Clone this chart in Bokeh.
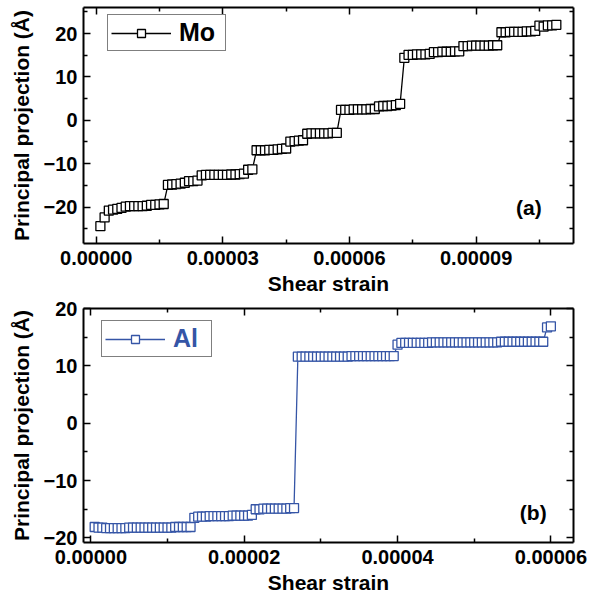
from bokeh.plotting import figure
from bokeh.layouts import column
from bokeh.models import (Range1d, LinearAxis, FixedTicker, PrintfTickFormatter,
                          CustomJSTickFormatter, Legend, LegendItem, Label)
from bokeh.embed import file_html
from bokeh.resources import INLINE

FONT = "Liberation Sans"

# ---------------- data (strain in units of 1e-6, projection in Angstrom) ----------------
mo_strain_e6 = [1, 2, 3, 4, 5, 6, 7, 8, 9, 10, 11, 12, 13, 14, 15, 16,
                17, 18, 19, 20, 21, 22, 23, 24,
                25, 26, 27, 28, 29, 30, 31, 32, 33, 34, 35, 36, 37,
                38, 39, 40, 41, 42, 43, 44, 45,
                46, 47, 48, 49,
                50, 51, 52, 53, 54, 55, 56, 57,
                58, 59, 60, 61, 62, 63, 64, 65, 66,
                67, 68, 69, 70, 71, 72,
                73, 74, 75, 76, 77, 78, 79,
                80, 81, 82, 83, 84, 85, 86,
                87, 88, 89, 90, 91, 92, 93, 94, 95,
                96, 97, 98, 99, 100, 101, 102, 103, 104,
                105, 106, 107, 108, 109]
mo_proj = [-24.4, -22.4, -20.8, -20.6, -20.4, -20.2, -19.9, -19.8, -19.8, -19.8, -19.8, -19.7, -19.5, -19.5, -19.4, -19.3,
           -14.9, -14.8, -14.7, -14.6, -14.4, -14.0, -14.0, -13.9,
           -12.7, -12.6, -12.6, -12.6, -12.6, -12.6, -12.6, -12.5, -12.5, -12.4, -12.3, -11.4, -11.3,
           -6.9, -6.9, -6.9, -6.8, -6.8, -6.7, -6.6, -6.5,
           -4.9, -4.8, -4.7, -4.6,
           -3.1, -3.0, -3.0, -3.0, -3.0, -3.0, -2.9, -2.9,
           2.4, 2.4, 2.4, 2.5, 2.5, 2.5, 2.5, 2.6, 2.6,
           3.2, 3.3, 3.3, 3.4, 3.5, 3.8,
           14.4, 15.1, 15.1, 15.2, 15.2, 15.2, 15.3,
           15.7, 15.7, 15.8, 15.8, 15.8, 15.9, 15.9,
           17.1, 17.1, 17.2, 17.2, 17.2, 17.2, 17.2, 17.3, 17.3,
           20.3, 20.3, 20.4, 20.4, 20.4, 20.4, 20.5, 20.5, 20.6,
           21.8, 21.6, 21.9, 21.9, 22.0]

al_strain_e6 = [0.5, 1.0, 1.5, 2.0, 2.5, 3.0, 3.5, 4.0, 4.5, 5.0, 5.5, 6.0, 6.5,
                7.0, 7.5, 8.0, 8.5, 9.0, 9.5, 10.0, 10.5, 11.0, 11.5, 12.0, 12.5, 13.0,
                13.5, 14.0, 14.5, 15.0, 15.5, 16.0, 16.5, 17.0, 17.5, 18.0, 18.5, 19.0,
                19.5, 20.0, 20.5, 21.0,
                21.5, 22.0, 22.5, 23.0, 23.5, 24.0, 24.5, 25.0, 25.5, 26.0, 26.5,
                27.0, 27.5, 28.0, 28.5, 29.0, 29.5, 30.0, 30.5, 31.0, 31.5, 32.0, 32.5,
                33.0, 33.5, 34.0, 34.5, 35.0, 35.5, 36.0, 36.5, 37.0, 37.5, 38.0, 38.5,
                39.0, 39.5, 40.0,
                40.5,
                41.0, 41.5, 42.0, 42.5, 43.0, 43.5, 44.0, 44.5, 45.0, 45.5, 46.0, 46.5,
                47.0, 47.5, 48.0, 48.5, 49.0, 49.5, 50.0, 50.5, 51.0, 51.5, 52.0, 52.5,
                53.0, 53.5, 54.0, 54.5, 55.0, 55.5, 56.0, 56.5, 57.0, 57.5, 58.0, 58.5,
                59.0, 59.5,
                60.0, 60.5]
al_proj = [-18.1, -18.2, -18.2, -18.3, -18.3, -18.3, -18.3, -18.3, -18.3, -18.2, -18.2, -18.2, -18.2,
           -18.2, -18.2, -18.2, -18.2, -18.2, -18.2, -18.2, -18.2, -18.1, -18.1, -18.1, -18.1, -18.1,
           -16.5, -16.3, -16.3, -16.3, -16.2, -16.2, -16.2, -16.2, -16.2, -16.2, -16.1, -16.1,
           -16.1, -16.1, -16.1, -16.0,
           -15.0, -15.0, -14.9, -14.9, -14.9, -14.9, -14.9, -14.9, -14.9, -14.8, -14.8,
           11.6, 11.6, 11.6, 11.6, 11.6, 11.6, 11.6, 11.6, 11.6, 11.6, 11.6, 11.6,
           11.6, 11.6, 11.7, 11.7, 11.7, 11.7, 11.7, 11.7, 11.7, 11.7, 11.7,
           11.7, 11.7, 11.7,
           13.7,
           14.0, 14.0, 14.0, 14.0, 14.0, 14.0, 14.0, 14.0, 14.1, 14.1, 14.1, 14.1,
           14.1, 14.1, 14.1, 14.1, 14.1, 14.1, 14.1, 14.1, 14.1, 14.1, 14.1, 14.1,
           14.1, 14.1, 14.2, 14.2, 14.2, 14.2, 14.2, 14.2, 14.2, 14.2, 14.2, 14.2,
           14.2, 14.2,
           16.7, 16.9]

mo_xticks = [0.0, 0.00003, 0.00006, 0.00009]
mo_xminor = [0.000015, 0.000045, 0.000075, 0.000105]
al_xticks = [0.0, 0.00002, 0.00004, 0.00006]
al_xminor = [0.00001, 0.00003, 0.00005]
yticks = [-20, -10, 0, 10, 20]
mo_yminor = [-25, -15, -5, 5, 15, 25]
al_yminor = [-15, -5, 5, 15]

X_LABEL = "Shear strain"
Y_LABEL = "Principal projection (Å)"

MO_COLOR = "black"
AL_COLOR = "#3555a6"


def style_axis(ax, show_labels):
    ax.axis_line_width = 2
    ax.axis_line_color = "black"
    ax.major_tick_in = 7
    ax.major_tick_out = 0
    ax.minor_tick_in = 4
    ax.minor_tick_out = 0
    ax.major_tick_line_width = 1.5
    ax.minor_tick_line_width = 1.5
    ax.major_tick_line_color = "black"
    ax.minor_tick_line_color = "black"
    if show_labels:
        ax.major_label_text_font = FONT
        ax.major_label_text_font_style = "bold"
        ax.major_label_text_font_size = "20px"
        ax.major_label_text_color = "black"
        ax.axis_label_text_font = FONT
        ax.axis_label_text_font_style = "bold"
        ax.axis_label_text_font_size = "21px"
        ax.axis_label_text_color = "black"
    else:
        ax.formatter = CustomJSTickFormatter(code="return '';")
        ax.major_label_text_font_size = "1px"
        ax.major_label_standoff = 0
        ax.axis_label = None


def make_panel(x, y, color, name, xr, yr, xt, xm, ym, panel_text, panel_pos,
               legend_loc, width, height, mb, label_width):
    p = figure(width=width, height=height, x_range=Range1d(*xr), y_range=Range1d(*yr),
               output_backend="svg", toolbar_location=None,
               min_border_left=mb[0], min_border_right=mb[1],
               min_border_top=mb[2], min_border_bottom=mb[3])
    p.xgrid.visible = False
    p.ygrid.visible = False
    p.outline_line_color = None
    p.background_fill_color = "white"
    p.border_fill_color = "white"

    p.xaxis[0].ticker = FixedTicker(ticks=xt, minor_ticks=xm)
    p.xaxis[0].formatter = PrintfTickFormatter(format="%.5f")
    p.xaxis[0].axis_label = X_LABEL
    p.xaxis[0].major_label_standoff = 7
    p.xaxis[0].axis_label_standoff = 4
    style_axis(p.xaxis[0], True)

    p.yaxis[0].ticker = FixedTicker(ticks=yticks, minor_ticks=ym)
    p.yaxis[0].axis_label = Y_LABEL
    p.yaxis[0].major_label_standoff = 6
    p.yaxis[0].axis_label_standoff = 8
    style_axis(p.yaxis[0], True)

    top = LinearAxis(ticker=FixedTicker(ticks=xt, minor_ticks=xm))
    style_axis(top, False)
    p.add_layout(top, "above")
    right = LinearAxis(ticker=FixedTicker(ticks=yticks, minor_ticks=ym))
    style_axis(right, False)
    p.add_layout(right, "right")

    xs = [v * 1e-6 for v in x]
    r_line = p.line(xs, y, line_color=color, line_width=1.3)
    r_sc = p.scatter(xs, y, marker="square", size=9, fill_color="white",
                     line_color=color, line_width=1.3)

    leg = Legend(items=[LegendItem(label=name, renderers=[r_line, r_sc])],
                 location=legend_loc, glyph_width=60, glyph_height=20,
                 label_standoff=8, padding=3, margin=0, spacing=0,
                 label_width=label_width, label_height=20,
                 border_line_color="black", border_line_width=1,
                 background_fill_color="white", background_fill_alpha=1,
                 label_text_font=FONT, label_text_font_style="bold",
                 label_text_font_size="25px", label_text_color=color)
    p.add_layout(leg)

    p.add_layout(Label(x=panel_pos[0], y=panel_pos[1], text=panel_text,
                       text_align="center", text_baseline="middle",
                       text_font=FONT, text_font_style="bold",
                       text_font_size="21px", text_color="black"))
    return p


# page has no margin in practice: figures start at the window's top-left corner
p1 = make_panel(mo_strain_e6, mo_proj, MO_COLOR, "Mo",
                (-3.0e-6, 1.1307e-4), (-28.4, 26.0), mo_xticks, mo_xminor, mo_yminor,
                "(a)", (1.025e-4, -20.0), (24, 192), 590, 297, (80, 16, 7, 52), 43)
p2 = make_panel(al_strain_e6, al_proj, AL_COLOR, "Al",
                (-0.96e-6, 6.295e-5), (-20.8, 20.0), al_xticks, al_xminor, al_yminor,
                "(b)", (5.77e-5, -15.5), (18, 185), 590, 299, (83, 17, 11, 54), 35)

layout = column(p1, p2, spacing=0)
open("out.html", "w").write(file_html(layout, INLINE))
